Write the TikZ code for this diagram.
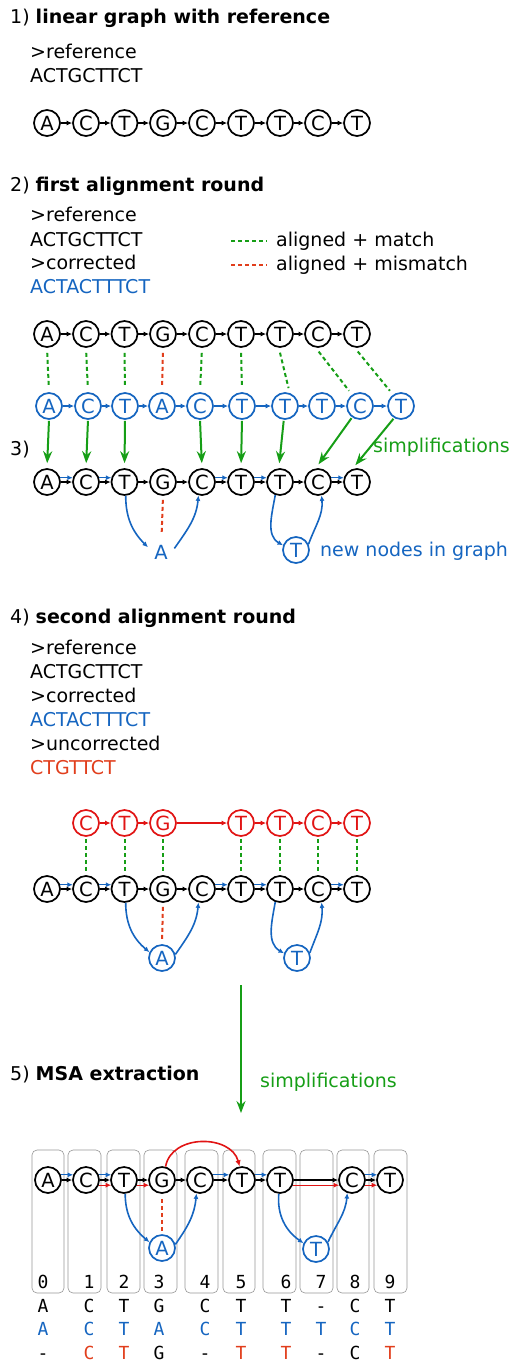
\documentclass[tikz,border=0pt]{standalone}
\usepackage{fontspec}
\setmainfont{DejaVu Sans}
\setmonofont{DejaVu Sans Mono}
\usetikzlibrary{arrows.meta}
\definecolor{blueC}{RGB}{21,101,192}
\definecolor{greenC}{RGB}{22,158,22}
\definecolor{redC}{RGB}{225,20,20}
\definecolor{orC}{RGB}{225,62,28}
\definecolor{boxC}{RGB}{150,150,150}
\newcommand{\tfont}{\fontsize{19}{24}\selectfont}
\newcommand{\nfont}{\fontsize{19.5}{22}\selectfont}
\newcommand{\mfont}{\fontsize{18}{22}\selectfont\ttfamily}
\tikzset{
  nd/.style={circle, draw=black, line width=1.7pt, minimum size=26pt, inner sep=0pt, font=\nfont},
  nbl/.style={nd, draw=blueC, text=blueC},
  nrd/.style={nd, draw=redC, text=redC},
  ea/.style={line width=1.1pt, -{Latex[length=5.5pt,width=5pt]}},
  eb/.style={ea, color=blueC},
  er/.style={ea, color=redC},
  cb/.style={line width=1.6pt, color=blueC, -{Latex[length=5.5pt,width=5pt]}},
  arcr/.style={line width=1.6pt, color=redC, -{Latex[length=6pt,width=5.5pt]}},
  gdash/.style={draw=greenC, line width=2pt, dash pattern=on 4pt off 3pt},
  rdash/.style={draw=orC, line width=2pt, dash pattern=on 4pt off 3pt},
  shrt/.style={shorten <=#1, shorten >=#1},
  shrt/.default=5pt,
  garr/.style={color=greenC, line width=2pt, -{Stealth[length=12pt,width=9pt,inset=4pt]}},
  txt/.style={anchor=base west, inner sep=0pt, font=\tfont},
  msa/.style={anchor=base, inner sep=0pt, font=\mfont},
  colbox/.style={draw=boxC, line width=0.6pt, rounded corners=5pt},
}
\begin{document}
\begin{tikzpicture}[x=1pt,y=1pt]
\useasboundingbox (0,0) rectangle (513,-1361);

% ---------------- 1)
\node[txt] (h1) at (10,-23) {1) \textbf{linear graph with reference}};
\node[txt] (t1a) at (30,-58) {>reference};
\node[txt] (t1b) at (30,-82) {ACTGCTTCT};
\foreach \x/\l [count=\i from 0] in {47/A,86/C,124.5/T,163/G,202/C,241/T,280/T,318/C,357/T}
  \node[nd] (ra\i) at (\x,-123) {\l};
\foreach \i/\j in {0/1,1/2,2/3,3/4,4/5,5/6,6/7,7/8} \draw[ea] (ra\i) -- (ra\j);

% ---------------- 2)
\node[txt] (h2) at (10,-191) {2) \textbf{first alignment round}};
\node[txt] (t2a) at (30,-221) {>reference};
\node[txt] (t2b) at (30,-246) {ACTGCTTCT};
\node[txt] (t2c) at (30,-269) {>corrected};
\node[txt,text=blueC] (t2d) at (30,-293) {ACTACTTTCT};
\coordinate (lga) at (231,-241); \coordinate (lgb) at (267,-241);
\coordinate (lgc) at (231,-265); \coordinate (lgd) at (267,-265);
\draw[gdash] (lga) -- (lgb);
\draw[rdash] (lgc) -- (lgd);
\node[txt] (lg1) at (276,-246) {aligned + match};
\node[txt] (lg2) at (276,-270) {aligned + mismatch};

\foreach \x/\l [count=\i from 0] in {47/A,86/C,124.5/T,163/G,202/C,241/T,280/T,318/C,357/T}
  \node[nd] (rb\i) at (\x,-334) {\l};
\foreach \i/\j in {0/1,1/2,2/3,3/4,4/5,5/6,6/7,7/8} \draw[ea] (rb\i) -- (rb\j);
\foreach \x/\l [count=\i from 0] in {49/A,88/C,125/T,162/A,200/C,242/T,285/T,322/T,360/C,401/T}
  \node[nbl] (bb\i) at (\x,-406) {\l};
\foreach \i/\j in {0/1,1/2,2/3,3/4,4/5,5/6,6/7,7/8,8/9} \draw[eb] (bb\i) -- (bb\j);
\foreach \i in {0,1,2,4,5} \draw[gdash,shrt] (rb\i.south) -- (bb\i.north);
\draw[rdash,shrt] (rb3.south) -- (bb3.north);
\draw[gdash,shrt] (rb6.-95) -- (bb6.70);
\draw[gdash,shrt] (rb7.-100) -- (bb8.125);
\draw[gdash,shrt] (rb8.-100) -- (bb9.125);

% ---------------- 3)
\node[txt] (h3) at (10,-455) {3)};
\foreach \x/\l [count=\i from 0] in {47/A,86/C,124.5/T,163/G,202/C,241/T,280/T,318/C,357/T}
  \node[nd] (rc\i) at (\x,-482) {\l};
\foreach \i/\j in {0/1,1/2,2/3,3/4,4/5,5/6,6/7,7/8} \draw[ea] (rc\i) -- (rc\j);
\foreach \i/\j in {0/1,1/2,4/5,5/6,7/8} \draw[eb] (rc\i.18) -- (rc\j.162);
\node[nd,draw=none,text=blueC] (ac) at (161,-552) {A};
\node[nbl] (tc) at (296,-550) {T};
\draw[rdash,shrt=4pt] (rc3.south) -- (ac);
\draw[cb] (rc2.-85) to[out=-90,in=135] (ac.160);
\draw[cb] (ac.15) to[out=55,in=-95] (rc4.-105);
\draw[cb] (rc6.-110) to[out=-100,in=150] (tc.160);
\draw[cb] (tc.25) to[out=70,in=-85] (rc7.-75);
\foreach \i in {0,1,2,4,5} \draw[garr,shorten >=5pt,shorten <=1pt] (bb\i.south) -- (rc\i.north);
\draw[garr,shorten >=5pt,shorten <=1pt] (bb6.-95) -- (rc6.95);
\draw[garr,shorten >=5pt,shorten <=1pt] (bb8.-125) -- (rc7.100);
\draw[garr,shorten >=5pt,shorten <=1pt] (bb9.-120) -- (rc8.110);
\node[txt,text=greenC] (simp1) at (373,-452) {simplifications};
\node[txt,text=blueC] (nn) at (320,-556) {new nodes in graph};

% ---------------- 4)
\node[txt] (h4) at (10,-623) {4) \textbf{second alignment round}};
\node[txt] (t4a) at (30,-654) {>reference};
\node[txt] (t4b) at (30,-678) {ACTGCTTCT};
\node[txt] (t4c) at (30,-702) {>corrected};
\node[txt,text=blueC] (t4d) at (30,-726) {ACTACTTTCT};
\node[txt] (t4e) at (30,-750) {>uncorrected};
\node[txt,text=orC] (t4f) at (30,-774) {CTGTTCT};

\foreach \x/\l/\i in {86/C/1,124.5/T/2,163/G/3,241/T/5,280/T/6,318/C/7,357/T/8}
  \node[nrd] (qd\i) at (\x,-823) {\l};
\foreach \i/\j in {1/2,2/3,3/5,5/6,6/7,7/8} \draw[er] (qd\i) -- (qd\j);
\foreach \x/\l [count=\i from 0] in {47/A,86/C,124.5/T,163/G,202/C,241/T,280/T,318/C,357/T}
  \node[nd] (rd\i) at (\x,-889) {\l};
\foreach \i/\j in {0/1,1/2,2/3,3/4,4/5,5/6,6/7,7/8} \draw[ea] (rd\i) -- (rd\j);
\foreach \i/\j in {0/1,1/2,4/5,5/6,7/8} \draw[eb] (rd\i.18) -- (rd\j.162);
\foreach \i in {1,2,3,5,6,7,8} \draw[gdash,shrt=2pt] (qd\i.south) -- (rd\i.north);
\node[nbl] (ad) at (162,-958) {A};
\node[nbl] (td) at (297,-958) {T};
\draw[rdash,shrt=4pt] (rd3.south) -- (ad.north);
\draw[cb] (rd2.-85) to[out=-90,in=140] (ad.155);
\draw[cb] (ad.15) to[out=55,in=-95] (rd4.-105);
\draw[cb] (rd6.-110) to[out=-100,in=150] (td.160);
\draw[cb] (td.22) to[out=70,in=-85] (rd7.-75);

% ---------------- 5)
\coordinate (ga1) at (241,-985); \coordinate (ga2) at (241,-1113);
\draw[garr] (ga1) -- (ga2);
\node[txt,text=greenC] (simp2) at (260,-1087) {simplifications};
\node[txt] (h5) at (10,-1080) {5) \textbf{MSA extraction}};

\foreach \a/\b in {32/64,68/101,107/140,144/177,185/218,223/255,263/296,300/333,337/369,374/407}
  \draw[colbox] (\a,-1150) rectangle (\b,-1293);

\foreach \x/\l [count=\i from 0] in {48/A,86/C,124/T,162/G,200/C,242/T,280/T,352/C,390/T}
  \node[nd] (re\i) at (\x,-1180) {\l};
\foreach \i/\j in {0/1,1/2,2/3,3/4,4/5,5/6,6/7,7/8} \draw[ea] (re\i) -- (re\j);
\foreach \i/\j in {0/1,1/2,4/5,5/6,7/8} \draw[eb] (re\i.22) -- (re\j.158);
\foreach \i/\j in {1/2,2/3,6/7,7/8} \draw[er] (re\i.-22) -- (re\j.-158);
\node[nbl] (ae) at (162,-1248) {A};
\node[nbl] (te) at (316,-1249) {T};
\draw[rdash,shorten <=5pt,shorten >=1pt] (re3.south) -- (ae.north);
\draw[cb] (re2.-85) to[out=-90,in=140] (ae.155);
\draw[cb] (ae.15) to[out=55,in=-95] (re4.-105);
\draw[cb] (re6.-95) to[out=-95,in=145] (te.155);
\draw[cb] (te.30) to[out=65,in=-95] (re7.-110);
\draw[arcr] (re3.75) to[out=80,in=105,looseness=1.15] (re5.100);

\foreach \x/\d in {43/0,89/1,124/2,159/3,205/4,241/5,286/6,321/7,355/8,390/9}
  \node[msa] (n\d) at (\x,-1288) {\d};
\foreach \x/\c [count=\i] in {43/A,89/C,124/T,159/G,205/C,241/T,286/T,321/-,355/C,390/T}
  \node[msa] (ma\i) at (\x,-1312) {\c};
\foreach \x/\c [count=\i] in {43/A,89/C,124/T,159/A,205/C,241/T,286/T,321/T,355/C,390/T}
  \node[msa,text=blueC] (mb\i) at (\x,-1335) {\c};
\foreach \x/\c/\col [count=\i] in {43/-/black,89/C/orC,124/T/orC,159/G/black,205/-/black,241/T/orC,286/T/orC,321/-/black,355/C/black,390/T/orC}
  \node[msa,text=\col] (mc\i) at (\x,-1359) {\c};
\end{tikzpicture}
\end{document}
